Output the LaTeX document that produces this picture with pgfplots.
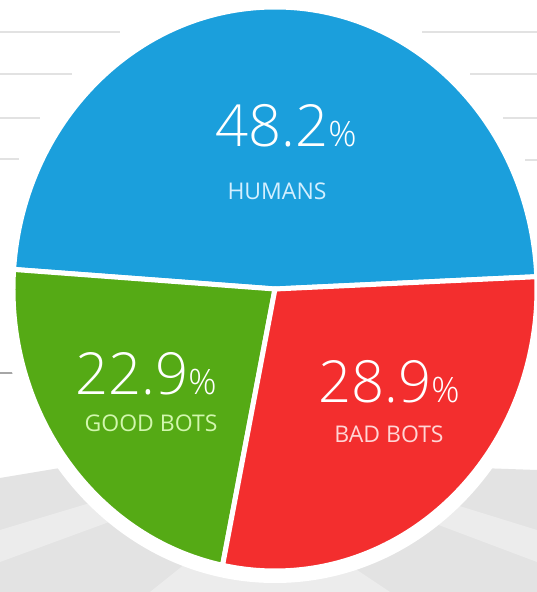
\documentclass[border=0pt]{standalone}
\usepackage{fontspec}
\setmainfont{Open Sans Light}
\newfontfamily\regfont{Open Sans}
\usepackage{pgfplots}
\usepackage{pgfplotstable}
\pgfplotsset{compat=1.18}

\definecolor{slice0}{HTML}{1B9FDC}
\definecolor{slice1}{HTML}{55AA15}
\definecolor{slice2}{HTML}{F32E2E}
\definecolor{text0}{HTML}{D3EFFF}
\definecolor{text1}{HTML}{D2F7AE}
\definecolor{text2}{HTML}{FFD5D5}
\definecolor{bgline}{HTML}{E2E2E2}
\definecolor{floor}{HTML}{E3E3E3}
\definecolor{floorlight}{HTML}{ECECEC}

% share in percent; nx/ny and tx/ty are where the number and the name sit
\pgfplotstableread[col sep=comma]{
share,name,nx,ny,tx,ty
48.2,HUMANS,286,445,277,392
22.9,GOOD BOTS,146,197,151,160
28.9,BAD BOTS,389,189,389,149
}\sharetable

% centre and radii of the pie (1 axis unit = 1pt)
\def\cx{275}
\def\cy{303}
\def\rx{262}
\def\ry{282}

\begin{document}
\begin{tikzpicture}[x=1pt, y=1pt]
\path[use as bounding box] (0,0) rectangle (537,592);

% background: thin rules at the top, grey floor at the bottom
\foreach \y/\xa/\xb in {560/0/120, 518/0/72, 474/0/40, 433/0/19,
                        560/422/537, 518/470/537, 474/503/537, 432/525/537}{
  \draw[bgline, line width=1.6pt] (\xa,\y) -- (\xb,\y);
}
\draw[gray!70, line width=1.2pt] (0,219) -- (18,219);
\fill[floor] (0,114) -- (60,124) -- (480,124) -- (537,122) -- (537,0) -- (0,0) -- cycle;
\fill[floorlight] (0,62) -- (100,92) -- (120,74) -- (0,30) -- cycle;
\fill[floorlight] (537,62) -- (440,92) -- (420,74) -- (537,30) -- cycle;
\fill[floorlight] (150,0) -- (200,40) -- (330,40) -- (390,0) -- cycle;

% cumulative angles, starting just above the right edge
\xdef\runangle{2.5}
\foreach \i in {0,1,2}{%
  \pgfplotstablegetelem{\i}{share}\of\sharetable
  \expandafter\xdef\csname val\i\endcsname{\pgfplotsretval}%
  \pgfmathsetmacro\b{\runangle+3.6*\pgfplotsretval}%
  \expandafter\xdef\csname sa\i\endcsname{\runangle}%
  \expandafter\xdef\csname sb\i\endcsname{\b}%
  \xdef\runangle{\b}%
  \pgfplotstablegetelem{\i}{name}\of\sharetable
  \expandafter\xdef\csname nm\i\endcsname{\pgfplotsretval}%
  \pgfplotstablegetelem{\i}{nx}\of\sharetable
  \expandafter\xdef\csname nx\i\endcsname{\pgfplotsretval}%
  \pgfplotstablegetelem{\i}{ny}\of\sharetable
  \expandafter\xdef\csname ny\i\endcsname{\pgfplotsretval}%
  \pgfplotstablegetelem{\i}{tx}\of\sharetable
  \expandafter\xdef\csname tx\i\endcsname{\pgfplotsretval}%
  \pgfplotstablegetelem{\i}{ty}\of\sharetable
  \expandafter\xdef\csname ty\i\endcsname{\pgfplotsretval}%
}

\begin{axis}[
  width=537pt, height=592pt, scale only axis,
  xmin=0, xmax=537, ymin=0, ymax=592,
  hide axis, clip=false]

% white ring round the pie
\fill[white] (axis cs:\cx,\cy) ellipse[x radius=\rx pt+12pt, y radius=\ry pt+12pt];

\pgfplotsinvokeforeach{0,1,2}{
  \fill[slice#1, draw=white, line width=5pt, line join=round]
    (axis cs:\cx,\cy)
    -- (axis cs:{\cx+\rx*cos(\csname sa#1\endcsname)},{\cy+\ry*sin(\csname sa#1\endcsname)})
    arc[start angle=\csname sa#1\endcsname, end angle=\csname sb#1\endcsname,
        x radius=\rx pt, y radius=\ry pt]
    -- cycle;
}
\pgfplotsinvokeforeach{0,1,2}{
  \node[anchor=base, inner sep=0pt, text=white]
    at (axis cs:\csname nx#1\endcsname,\csname ny#1\endcsname)
    {\fontsize{58}{58}\selectfont\csname val#1\endcsname{\fontsize{35}{35}\selectfont\%}};
  \node[anchor=base, inner sep=0pt, text=text#1]
    at (axis cs:\csname tx#1\endcsname,\csname ty#1\endcsname)
    {\regfont\fontsize{23}{23}\selectfont\csname nm#1\endcsname};
}
\end{axis}
\end{tikzpicture}
\end{document}
